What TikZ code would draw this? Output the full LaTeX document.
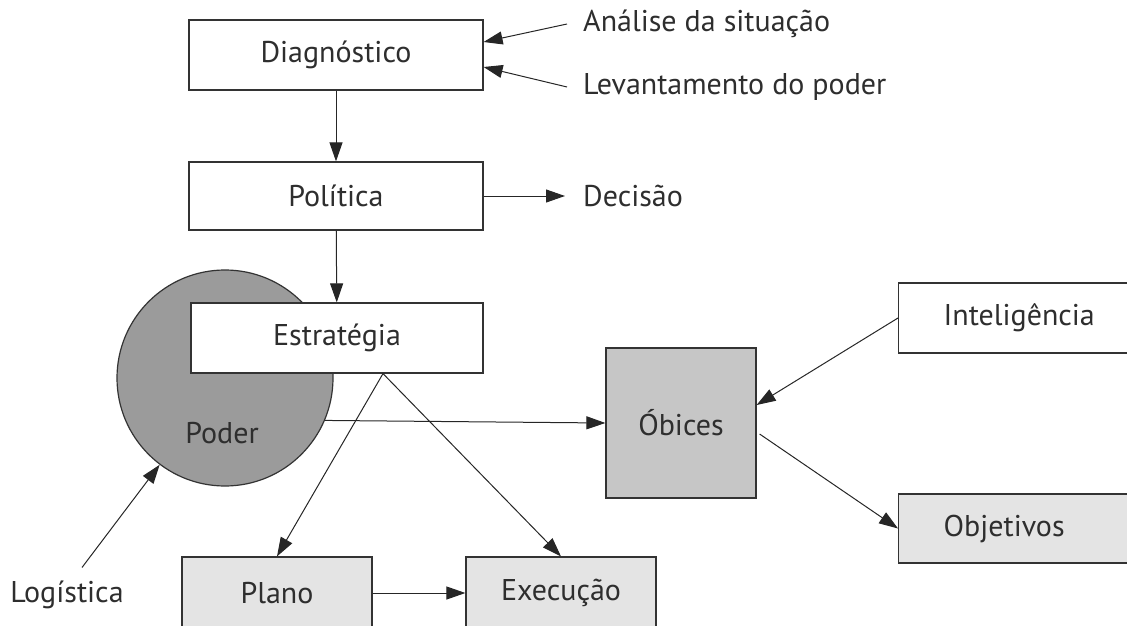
\documentclass[tikz,border=0pt]{standalone}
\usepackage{fontspec}
\setmainfont{PT Sans}
\usetikzlibrary{arrows.meta}
\definecolor{txt}{HTML}{2E2E2E}
\definecolor{darkfill}{HTML}{9B9B9B}
\definecolor{midfill}{HTML}{C6C6C6}
\definecolor{lightfill}{HTML}{E4E4E4}
\begin{document}
\begin{tikzpicture}[x=1pt,y=-1pt,
  every node/.style={text=txt,font=\fontsize{30}{35}\selectfont},
  box/.style={draw=black!80,line width=1.2pt,fill=white,inner sep=0pt},
  lbl/.style={inner xsep=16pt,inner ysep=2pt,anchor=west},
  arr/.style={draw=black!85,line width=1pt,-{Triangle[length=19pt,width=13pt]}}]
\useasboundingbox (0,0) rectangle (1127,626);
\clip (0,0) rectangle (1127,626);
% nodes
\node[box,minimum width=294pt,minimum height=70pt] (diag) at (336,55) {Diagnóstico};
\node[box,minimum width=294pt,minimum height=68pt] (pol) at (336,196) {Política};
\node[circle,draw=black!80,line width=1.2pt,fill=darkfill,minimum size=216pt,inner sep=0pt] (poder) at (225,378) {};
\node (poderlbl) at (222,433) {Poder};
\node[box,minimum width=292pt,minimum height=70pt] (estr) at (337,338) {Estratégia};
\node[box,fill=midfill,minimum width=150pt,minimum height=150pt] (obices) at (681,423) {Óbices};
\node[box,anchor=west,inner xsep=45pt,text width=146pt,align=left,minimum height=70pt] (intel) at (898,318) {Inteligência};
\node[box,fill=lightfill,anchor=west,inner xsep=45pt,text width=146pt,align=left,minimum height=69pt] (objet) at (898,528.5) {Objetivos};
\node[box,fill=lightfill,minimum width=190pt,minimum height=72pt] (plano) at (277,593) {Plano};
\node[box,fill=lightfill,minimum width=190pt,minimum height=72pt] (exec) at (561,593) {Execução};
\node[lbl] (analise) at (567,24) {Análise da situação};
\node[lbl] (levant) at (567,87) {Levantamento do poder};
\node[lbl,inner xsep=18pt] (decisao) at (565,196) {Decisão};
\node (logist) at (67,595) {Logística};
% connectors
\draw[arr] (diag) -- (pol);
\draw[arr] (pol) -- (estr);
\draw[arr] (pol.east) -- (decisao.west);
\draw[arr] (analise.west) -- ([yshift=13pt]diag.east);
\draw[arr] (levant.west) -- ([yshift=-12pt]diag.east);
\draw[arr] (poder.-23) -- (obices.west);
\draw[arr] (intel.west) -- ([yshift=18pt]obices.east);
\draw[arr] ([yshift=-11pt,xshift=3pt]obices.east) -- (objet.west);
\draw[arr] ([xshift=46pt]estr.south) -- (plano.north);
\draw[arr] ([xshift=46pt]estr.south) -- (exec.north);
\draw[arr] (plano.east) -- (exec.west);
\draw[arr] ([xshift=15pt,yshift=10pt]logist.north) -- (poder.233);
\end{tikzpicture}
\end{document}
